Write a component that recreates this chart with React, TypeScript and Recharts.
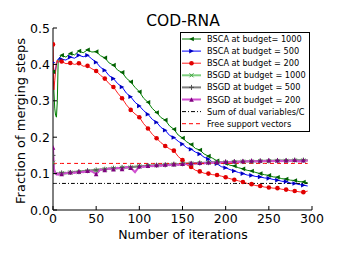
import { LineChart, Line, XAxis, YAxis } from 'recharts'

const iterations = [
  0, 1, 2, 3, 4, 5, 6, 8, 10,
  15, 20, 25, 30, 35, 40, 45, 50, 55, 60,
  65, 70, 75, 80, 85, 90, 95, 100, 105, 110,
  115, 120, 125, 130, 135, 140, 145, 150, 155, 160,
  165, 170, 175, 180, 185, 190, 195, 200, 205, 210,
  215, 220, 225, 230, 235, 240, 245, 250, 255, 260,
  265, 270, 275, 280, 285, 290, 295,
]

const bsca1000 = [
  0.38, 0.33, 0.28, 0.26, 0.255, 0.3, 0.41, 0.42, 0.425,
  0.42, 0.43, 0.426, 0.437, 0.432, 0.44, 0.434, 0.435, 0.424, 0.418,
  0.404, 0.398, 0.384, 0.378, 0.362, 0.352, 0.337, 0.325, 0.307, 0.296,
  0.279, 0.268, 0.254, 0.247, 0.231, 0.222, 0.206, 0.198, 0.187, 0.18,
  0.169, 0.165, 0.154, 0.148, 0.142, 0.135, 0.131, 0.128, 0.123, 0.121,
  0.116, 0.113, 0.109, 0.107, 0.103, 0.1, 0.097, 0.095, 0.091, 0.09,
  0.086, 0.085, 0.082, 0.081, 0.078, 0.077, 0.075,
]

const bsca500 = [
  0.405, 0.385, 0.375, 0.385, 0.4, 0.41, 0.415, 0.418, 0.414,
  0.412, 0.42, 0.417, 0.425, 0.421, 0.425, 0.415, 0.406, 0.392, 0.384,
  0.369, 0.361, 0.347, 0.338, 0.321, 0.311, 0.296, 0.286, 0.273, 0.263,
  0.249, 0.241, 0.227, 0.219, 0.205, 0.199, 0.189, 0.181, 0.171, 0.167,
  0.159, 0.154, 0.145, 0.14, 0.131, 0.127, 0.119, 0.116, 0.111, 0.107,
  0.103, 0.1, 0.096, 0.095, 0.092, 0.091, 0.088, 0.087, 0.084, 0.082,
  0.079, 0.078, 0.074, 0.073, 0.07, 0.068, 0.066,
]

const bsca200 = [
  0.455, 0.33, 0.355, 0.38, 0.405, 0.412, 0.405, 0.41, 0.408,
  0.402, 0.404, 0.4, 0.403, 0.395, 0.396, 0.388, 0.382, 0.37, 0.361,
  0.347, 0.338, 0.321, 0.307, 0.289, 0.275, 0.264, 0.255, 0.237, 0.224,
  0.208, 0.197, 0.185, 0.176, 0.168, 0.163, 0.147, 0.137, 0.124, 0.118,
  0.109, 0.106, 0.101, 0.1, 0.097, 0.096, 0.093, 0.09, 0.086, 0.083,
  0.08, 0.077, 0.073, 0.071, 0.067, 0.066, 0.063, 0.062, 0.06, 0.06,
  0.057, 0.056, 0.053, 0.052, 0.05, 0.049, 0.052,
]

const bsgd1000 = [
  0.13, 0.108, 0.103, 0.101, 0.1, 0.1, 0.099, 0.1, 0.101,
  0.1, 0.103, 0.104, 0.104, 0.106, 0.107, 0.108, 0.109, 0.111, 0.112,
  0.113, 0.114, 0.115, 0.116, 0.117, 0.117, 0.119, 0.12, 0.12, 0.121,
  0.122, 0.123, 0.123, 0.124, 0.125, 0.125, 0.126, 0.127, 0.127, 0.128,
  0.128, 0.129, 0.129, 0.13, 0.13, 0.131, 0.131, 0.131, 0.132, 0.132,
  0.132, 0.133, 0.133, 0.133, 0.134, 0.134, 0.134, 0.134, 0.135, 0.135,
  0.135, 0.135, 0.136, 0.136, 0.136, 0.136, 0.136,
]

const bsgd500 = [
  0.15, 0.11, 0.104, 0.102, 0.101, 0.1, 0.1, 0.101, 0.102,
  0.102, 0.103, 0.105, 0.105, 0.107, 0.108, 0.109, 0.11, 0.111, 0.112,
  0.114, 0.115, 0.115, 0.117, 0.117, 0.118, 0.119, 0.12, 0.121, 0.122,
  0.122, 0.123, 0.124, 0.124, 0.125, 0.126, 0.126, 0.127, 0.128, 0.128,
  0.129, 0.129, 0.13, 0.13, 0.131, 0.131, 0.131, 0.132, 0.132, 0.133,
  0.133, 0.133, 0.134, 0.134, 0.134, 0.135, 0.135, 0.135, 0.135, 0.136,
  0.136, 0.136, 0.136, 0.137, 0.137, 0.137, 0.137,
]

const bsgd200 = [
  0.172, 0.115, 0.105, 0.1, 0.098, 0.1, 0.097, 0.1, 0.099,
  0.101, 0.104, 0.102, 0.106, 0.104, 0.108, 0.106, 0.099, 0.111, 0.11,
  0.114, 0.112, 0.116, 0.113, 0.118, 0.116, 0.104, 0.12, 0.118, 0.122,
  0.12, 0.124, 0.121, 0.125, 0.123, 0.126, 0.124, 0.127, 0.126, 0.129,
  0.127, 0.13, 0.128, 0.131, 0.129, 0.132, 0.13, 0.133, 0.131, 0.134,
  0.132, 0.135, 0.133, 0.136, 0.133, 0.136, 0.134, 0.137, 0.134, 0.137,
  0.134, 0.137, 0.135, 0.138, 0.133, 0.137, 0.135,
]

const sumDualOverC = 0.073
const freeSupportVectors = 0.128

const xTicks = [0, 50, 100, 150, 200, 250, 300]
const yTicks = [0, 0.1, 0.2, 0.3, 0.4, 0.5]

const data = iterations.map((iter, i) => ({
  iter,
  bsca1000: bsca1000[i],
  bsca500: bsca500[i],
  bsca200: bsca200[i],
  bsgd1000: bsgd1000[i],
  bsgd500: bsgd500[i],
  bsgd200: bsgd200[i],
  sumDual: sumDualOverC,
  freeSV: freeSupportVectors,
}))

type Marker = 'triLeft' | 'triRight' | 'circle' | 'x' | 'plus' | 'triUp' | 'none'

interface Series {
  key: string
  name: string
  color: string
  markerColor: string
  width: number
  marker: Marker
  dash?: string
}

const series: Series[] = [
  { key: 'bsca1000', name: 'BSCA at budget= 1000', color: '#008000', markerColor: '#006000', width: 1, marker: 'triLeft' },
  { key: 'bsca500', name: 'BSCA at budget = 500', color: '#0000ff', markerColor: '#0000c0', width: 1, marker: 'triRight' },
  { key: 'bsca200', name: 'BSCA at budget = 200', color: '#ff2020', markerColor: '#e00000', width: 1, marker: 'circle' },
  { key: 'bsgd1000', name: 'BSGD at budget = 1000', color: '#80d080', markerColor: '#40a040', width: 2, marker: 'x' },
  { key: 'bsgd500', name: 'BSGD at budget = 500', color: '#808080', markerColor: '#505050', width: 2, marker: 'plus' },
  { key: 'bsgd200', name: 'BSGD at budget = 200', color: '#d050d0', markerColor: '#800080', width: 2, marker: 'triUp' },
  { key: 'sumDual', name: 'Sum of dual variables/C', color: '#000000', markerColor: '#000', width: 1, marker: 'none', dash: '4 2 1 2' },
  { key: 'freeSV', name: 'Free support vectors', color: '#ff0000', markerColor: '#f00', width: 1, marker: 'none', dash: '4 3' },
]

const FONT = '"DejaVu Sans", sans-serif'

function drawMarker(shape: Marker, cx: number, cy: number, color: string, key?: string | number) {
  const s = 2.3
  switch (shape) {
    case 'triLeft':
      return <polygon key={key} points={`${cx - s},${cy} ${cx + s},${cy - s} ${cx + s},${cy + s}`} fill={color} />
    case 'triRight':
      return <polygon key={key} points={`${cx + s},${cy} ${cx - s},${cy - s} ${cx - s},${cy + s}`} fill={color} />
    case 'triUp':
      return <polygon key={key} points={`${cx},${cy - s} ${cx - s},${cy + s} ${cx + s},${cy + s}`} fill={color} />
    case 'circle':
      return <circle key={key} cx={cx} cy={cy} r={2.3} fill={color} />
    case 'x':
      return (
        <g key={key} stroke={color} strokeWidth={1}>
          <line x1={cx - 2} y1={cy - 2} x2={cx + 2} y2={cy + 2} />
          <line x1={cx - 2} y1={cy + 2} x2={cx + 2} y2={cy - 2} />
        </g>
      )
    case 'plus':
      return (
        <g key={key} stroke={color} strokeWidth={1}>
          <line x1={cx - 2.5} y1={cy} x2={cx + 2.5} y2={cy} />
          <line x1={cx} y1={cy - 2.5} x2={cx} y2={cy + 2.5} />
        </g>
      )
    default:
      return <g key={key} />
  }
}

function makeDot(s: Series) {
  return (props: any) => {
    const { cx, cy, payload, index } = props
    const k = `${s.key}-${index}`
    if (s.marker === 'none' || payload.iter % 10 !== 0 || cx == null) return <g key={k} />
    return drawMarker(s.marker, cx, cy, s.markerColor, k)
  }
}

const BottomTick = (props: any) => {
  const { x, y, payload } = props
  return (
    <g>
      <line x1={x} y1={y} x2={x} y2={y - 4} stroke="#000" />
      <text x={x} y={y + 8.5} textAnchor="middle" dominantBaseline="central" fontSize={12.5} fontFamily={FONT} fill="#000">
        {payload.value}
      </text>
    </g>
  )
}

const LeftTick = (props: any) => {
  const { x, y, payload } = props
  return (
    <g>
      <line x1={x} y1={y} x2={x + 4} y2={y} stroke="#000" />
      <text x={x - 3} y={y} textAnchor="end" dominantBaseline="central" fontSize={12.5} fontFamily={FONT} fill="#000">
        {Number(payload.value).toFixed(1)}
      </text>
    </g>
  )
}

const TopTick = (props: any) => <line x1={props.x} y1={props.y} x2={props.x} y2={props.y + 4} stroke="#000" />
const RightTick = (props: any) => <line x1={props.x} y1={props.y} x2={props.x - 4} y2={props.y} stroke="#000" />

function LegendBox() {
  const left = 180.5
  const top = 32.5
  const rowH = 12.1
  return (
    <g>
      <rect x={left} y={top} width={129} height={99} fill="#fff" stroke="#000" strokeWidth={1} />
      {series.map((s, i) => {
        const cy = 39 + i * rowH
        return (
          <g key={s.key}>
            <line x1={182} y1={cy} x2={201} y2={cy} stroke={s.color} strokeWidth={s.width} strokeDasharray={s.dash} />
            {drawMarker(s.marker, 191.5, cy, s.markerColor)}
            <text x={207} y={cy} dominantBaseline="central" fontSize={8.2} fontFamily={FONT} fill="#000">
              {s.name}
            </text>
          </g>
        )
      })}
    </g>
  )
}

export default function App() {
  return (
    <div style={{ position: 'absolute', left: 0, top: 0, width: 340, height: 255, background: '#fff' }}>
      <LineChart width={340} height={255} data={data} margin={{ top: 28, right: 28, left: 13, bottom: 15 }}>
        <XAxis
          dataKey="iter"
          type="number"
          domain={[0, 300]}
          ticks={xTicks}
          allowDataOverflow
          tickSize={0}
          tickMargin={0}
          height={30}
          tick={<BottomTick />}
          axisLine={{ stroke: '#000' }}
          tickLine={false}
        />
        <XAxis
          xAxisId="top"
          orientation="top"
          dataKey="iter"
          type="number"
          domain={[0, 300]}
          ticks={xTicks}
          allowDataOverflow
          tickSize={0}
          tickMargin={0}
          height={0}
          tick={<TopTick />}
          axisLine={{ stroke: '#000' }}
          tickLine={false}
        />
        <YAxis
          type="number"
          domain={[0, 0.5]}
          ticks={yTicks}
          allowDataOverflow
          tickSize={0}
          tickMargin={0}
          width={40}
          tick={<LeftTick />}
          axisLine={{ stroke: '#000' }}
          tickLine={false}
        />
        <YAxis
          yAxisId="right"
          orientation="right"
          type="number"
          domain={[0, 0.5]}
          ticks={yTicks}
          allowDataOverflow
          tickSize={0}
          tickMargin={0}
          width={0}
          tick={<RightTick />}
          axisLine={{ stroke: '#000' }}
          tickLine={false}
        />
        {series.map((s) => (
          <Line
            key={s.key}
            type="linear"
            dataKey={s.key}
            name={s.name}
            stroke={s.color}
            strokeWidth={s.width}
            strokeDasharray={s.dash}
            dot={makeDot(s)}
            activeDot={false}
            isAnimationActive={false}
          />
        ))}
      </LineChart>
      <svg width={340} height={255} style={{ position: 'absolute', left: 0, top: 0, pointerEvents: 'none' }}>
        <text x={183} y={21} textAnchor="middle" dominantBaseline="central" fontSize={15.5} fontFamily={FONT} fill="#000">
          COD-RNA
        </text>
        <text x={183} y={234} textAnchor="middle" dominantBaseline="central" fontSize={12.5} fontFamily={FONT} fill="#000">
          Number of iterations
        </text>
        <text
          x={20}
          y={121}
          textAnchor="middle"
          dominantBaseline="central"
          fontSize={13}
          fontFamily={FONT}
          fill="#000"
          transform="rotate(-90 20 121)"
        >
          Fraction of merging steps
        </text>
        <LegendBox />
      </svg>
    </div>
  )
}
